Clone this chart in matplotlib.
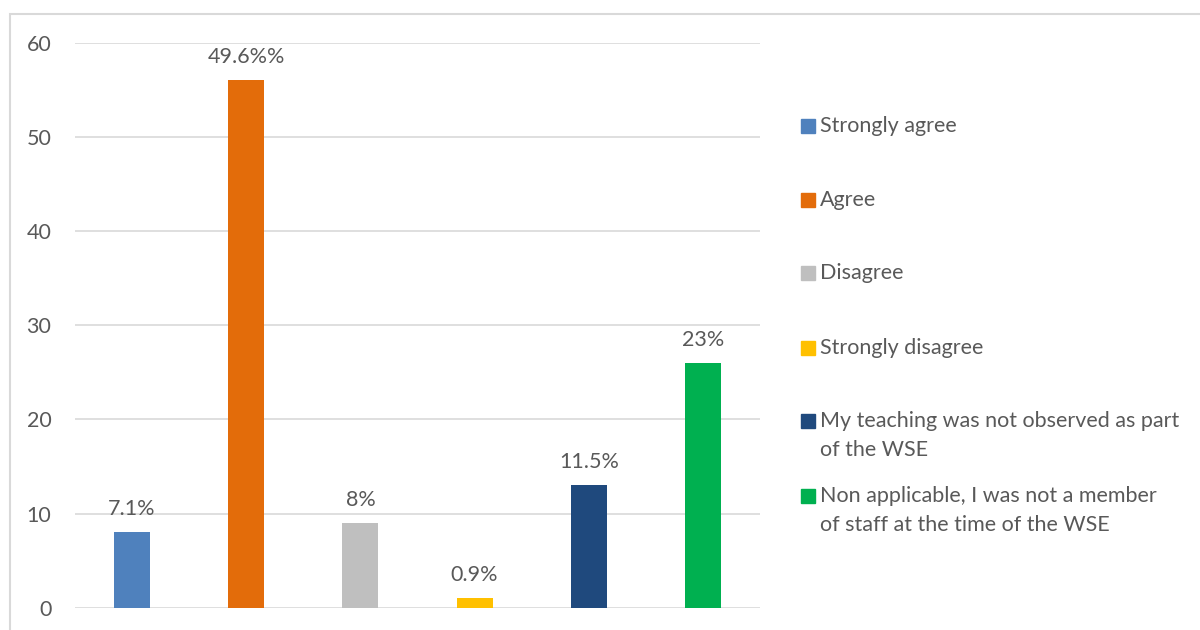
import matplotlib.pyplot as plt
from matplotlib.patches import Rectangle

categories = ["Strongly agree", "Agree", "Disagree", "Strongly disagree",
              "My teaching was not observed as part\nof the WSE",
              "Non applicable, I was not a member\nof staff at the time of the WSE"]
values = [8, 56, 9, 1, 13, 26]
labels = ["7.1%", "49.6%%", "8%", "0.9%", "11.5%", "23%"]
colors = ["#4f81bd", "#e36c0a", "#bfbfbf", "#ffc000", "#1f497d", "#00b050"]
yticks = [0, 10, 20, 30, 40, 50, 60]

plt.rcParams['font.family'] = ['Lato', 'DejaVu Sans']
txt = "#595959"
grid = "#d9d9d9"

fig = plt.figure(figsize=(12, 6.3), dpi=100)
ax = fig.add_axes([75/1200, 1-607.7/630, 685/1200, (607.7-42.7)/630])

x = list(range(len(values)))
ax.bar(x, values, width=0.315, color=colors, zorder=3)
for xi, v, lab in zip(x, values, labels):
    ax.annotate(lab, (xi, v), xytext=(0, 9.5), textcoords="offset points",
                ha="center", va="bottom", fontsize=15.5, color=txt)

ax.set_xlim(-0.5, len(values) - 0.5)
ax.set_ylim(0, 60)
ax.set_yticks(yticks)
ax.set_xticks([])
ax.yaxis.grid(True, color=grid, linewidth=1.2, zorder=0)
for s in ax.spines.values():
    s.set_visible(False)
ax.tick_params(axis="y", length=0, pad=17, labelsize=15.5, labelcolor=txt)

# legend drawn manually
leg_y = [126, 200, 273, 348, 421, 496]
for yy, c, cat in zip(leg_y, colors, categories):
    fig.patches.append(Rectangle((801/1200, 1-(yy+7)/630), 14/1200, 14/630,
                                 transform=fig.transFigure, color=c))
    if "\n" in cat:
        fig.text(820/1200, 1-(yy+14.5)/630, cat, ha="left", va="center",
                 fontsize=15.5, color=txt, linespacing=1.55)
    else:
        fig.text(820/1200, 1-yy/630, cat, ha="left", va="center",
                 fontsize=15.5, color=txt)

# outer chart border
fig.patches.append(Rectangle((10/1200, -0.1), 1.2, 1-14/630+0.1,
                             transform=fig.transFigure, fill=False,
                             edgecolor=grid, linewidth=1.5))

fig.savefig("out.png", dpi=100, facecolor="white")
